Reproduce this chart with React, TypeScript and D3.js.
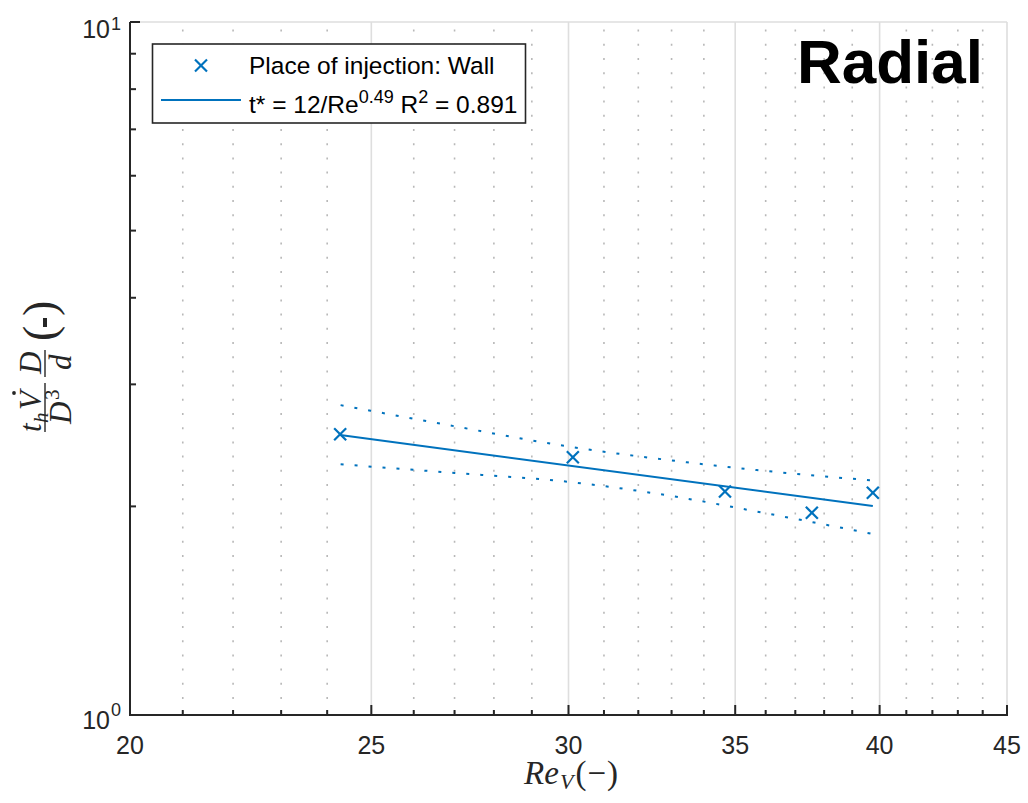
import React from 'react';
import * as d3 from 'd3';

// ---- data ----
const reynolds = [24.29, 30.12, 34.67, 37.57, 39.75];
const tStar = [2.541, 2.354, 2.102, 1.958, 2.093];
const fitRe = [24.29, 39.75];
const fitT = [2.535, 2.002];
const boundRe = [24.3, 27, 30, 33, 36, 39.75];
const upperT = [2.8, 2.61, 2.44, 2.33, 2.25, 2.18];
const lowerT = [2.3, 2.235, 2.17, 2.07, 1.955, 1.825];
const xMajorTicks = [20, 25, 30, 35, 40, 45];
const xMinorTicks = [21, 22, 23, 24, 26, 27, 28, 29, 31, 32, 33, 34, 36, 37, 38, 39, 41, 42, 43, 44];
const yMajorTicks = [1, 10];
const yTickExponents = ['0', '1'];
const yMinorTicks = [2, 3, 4, 5, 6, 7, 8, 9];
const legendScatterLabel = 'Place of injection: Wall';
const fitCoef = '12';
const fitExp = '0.49';
const fitR2 = '0.891';
const panelTitle = 'Radial';

const W = 1028;
const H = 803;
const L = 130;
const R = 1007;
const T = 22;
const B = 715;

const BLUE = '#0072BD';
const AX = '#262626';
const SANS = '"Liberation Sans", Arial, Helvetica, sans-serif';
const SERIF = '"Liberation Serif", "Times New Roman", serif';

export default function App() {
  const x = d3.scaleLog().domain([20, 45]).range([L, R]);
  const y = d3.scaleLog().domain([1, 10]).range([B, T]);

  const fitLine = d3
    .line<number>()
    .x((_, i) => x(fitRe[i]))
    .y((d) => y(d));
  const boundLine = d3
    .line<number>()
    .x((_, i) => x(boundRe[i]))
    .y((d) => y(d))
    .curve(d3.curveMonotoneX);

  const ms = 6;

  return (
    <svg
      width={W}
      height={H}
      style={{ position: 'absolute', left: 0, top: 0, background: '#fff' }}
      xmlns="http://www.w3.org/2000/svg"
    >
      <rect x={0} y={0} width={W} height={H} fill="#fff" />
      {/* minor x grid (dotted) */}
      {xMinorTicks.map((v) => (
        <line
          key={'mg' + v}
          x1={x(v)}
          x2={x(v)}
          y1={B}
          y2={T}
          stroke="#b8b8b8"
          strokeWidth={1.6}
          strokeDasharray="2 12.2"
          strokeDashoffset={12.4}
        />
      ))}
      {/* major x grid */}
      {xMajorTicks.slice(1).map((v) => (
        <line key={'g' + v} x1={x(v)} x2={x(v)} y1={B} y2={T} stroke="#dedede" strokeWidth={1.6} />
      ))}
      {/* major y grid (top) */}
      <line x1={L} x2={R} y1={y(yMajorTicks[1])} y2={y(yMajorTicks[1])} stroke="#dedede" strokeWidth={1.6} />

      {/* confidence bounds */}
      <path d={boundLine(upperT) || ''} fill="none" stroke={BLUE} strokeWidth={2} strokeDasharray="3 11" />
      <path d={boundLine(lowerT) || ''} fill="none" stroke={BLUE} strokeWidth={2} strokeDasharray="3 11" />
      {/* fit */}
      <path d={fitLine(fitT) || ''} fill="none" stroke={BLUE} strokeWidth={2} />
      {/* markers */}
      {reynolds.map((re, i) => {
        const cx = x(re);
        const cy = y(tStar[i]);
        return (
          <g key={'m' + i} stroke={BLUE} strokeWidth={2.2}>
            <line x1={cx - ms} y1={cy - ms} x2={cx + ms} y2={cy + ms} />
            <line x1={cx - ms} y1={cy + ms} x2={cx + ms} y2={cy - ms} />
          </g>
        );
      })}

      {/* axes */}
      <line x1={L} x2={L} y1={T} y2={B} stroke={AX} strokeWidth={2} />
      <line x1={L - 1} x2={R + 1} y1={B} y2={B} stroke={AX} strokeWidth={2} />
      {xMajorTicks.map((v) => (
        <line key={'xt' + v} x1={x(v)} x2={x(v)} y1={B} y2={B - 10} stroke={AX} strokeWidth={2} />
      ))}
      {xMinorTicks.map((v) => (
        <line key={'xmt' + v} x1={x(v)} x2={x(v)} y1={B} y2={B - 5} stroke={AX} strokeWidth={2} />
      ))}
      {yMajorTicks.map((v) => (
        <line key={'yt' + v} x1={L} x2={L + 10} y1={y(v)} y2={y(v)} stroke={AX} strokeWidth={2} />
      ))}
      {yMinorTicks.map((v) => (
        <line key={'ymt' + v} x1={L} x2={L + 6} y1={y(v)} y2={y(v)} stroke={AX} strokeWidth={2} />
      ))}

      {/* x tick labels */}
      {xMajorTicks.map((v) => (
        <text
          key={'xl' + v}
          x={x(v)}
          y={754}
          textAnchor="middle"
          fontFamily={SANS}
          fontSize={25}
          fill={AX}
        >
          {v}
        </text>
      ))}
      {/* y tick labels */}
      {yMajorTicks.map((v, i) => {
        const base = v === 1 ? y(v) + 14 : y(v) + 16;
        const sup = v === 1 ? y(v) + 1 : y(v) + 8;
        return (
          <g key={'yl' + v} fontFamily={SANS} fill={AX}>
            <text x={110} y={base} textAnchor="end" fontSize={25}>
              10
            </text>
            <text x={111} y={sup} textAnchor="start" fontSize={18}>
              {yTickExponents[i]}
            </text>
          </g>
        );
      })}

      {/* x axis label */}
      <text x={618} y={784} textAnchor="end" fontFamily={SERIF} fontSize={33} fill={AX}>
        <tspan fontStyle="italic">R</tspan>
        <tspan fontStyle="italic">e</tspan>
        <tspan fontStyle="italic" fontSize={22} dy={5} dx={1}>
          V
        </tspan>
        <tspan dy={-5} dx={2}>
          (
        </tspan>
        <tspan dx={1}>−</tspan>
        <tspan dx={1}>)</tspan>
      </text>

      {/* y axis label */}
      <g transform="translate(45,368) rotate(-90)" fontFamily={SERIF} fill={AX}>
        {/* fraction 1 */}
        <line x1={-64} x2={-15} y1={0} y2={0} stroke={AX} strokeWidth={1.4} />
        <text x={-64} y={-4} fontSize={31} fontStyle="italic">
          t
        </text>
        <text x={-55} y={3} fontSize={21} fontStyle="italic">
          h
        </text>
        <text x={-42} y={-4} fontSize={31} fontStyle="italic">
          V
        </text>
        <circle cx={-25} cy={-31} r={1.9} fill={AX} />
        <text x={-56} y={26} fontSize={31} fontStyle="italic">
          D
        </text>
        <text x={-32} y={14} fontSize={21}>
          3
        </text>
        {/* fraction 2 */}
        <line x1={-9} x2={18} y1={0} y2={0} stroke={AX} strokeWidth={1.4} />
        <text x={-6} y={-4} fontSize={31} fontStyle="italic">
          D
        </text>
        <text x={-2} y={26} fontSize={31} fontStyle="italic">
          d
        </text>
        {/* (-) */}
        <text x={27} y={10} fontSize={46}>
          (
        </text>
        <rect x={41} y={-2} width={9} height={4} fill={AX} />
        <text x={52} y={10} fontSize={46}>
          )
        </text>
      </g>

      {/* legend */}
      <rect x={152.5} y={44} width={373} height={79} fill="#fff" stroke={AX} strokeWidth={1.6} />
      <g stroke={BLUE} strokeWidth={2.2}>
        <line x1={201 - ms} y1={65.5 - ms} x2={201 + ms} y2={65.5 + ms} />
        <line x1={201 - ms} y1={65.5 + ms} x2={201 + ms} y2={65.5 - ms} />
      </g>
      <line x1={161} x2={241} y1={100} y2={100} stroke={BLUE} strokeWidth={2} />
      <text x={249} y={74} fontFamily={SANS} fontSize={24.5} fill="#000">
        {legendScatterLabel}
      </text>
      <text x={249} y={113} fontFamily={SANS} fontSize={24.5} fill="#000">
        {'t* = ' + fitCoef + '/Re'}
        <tspan fontSize={18} dy={-10}>
          {fitExp}
        </tspan>
        <tspan dy={10}>{' R'}</tspan>
        <tspan fontSize={18} dy={-10}>
          2
        </tspan>
        <tspan dy={10}>{' = ' + fitR2}</tspan>
      </text>

      {/* title */}
      <text x={983} y={83} textAnchor="end" fontFamily={SANS} fontWeight="bold" fontSize={62} fill="#000">
        {panelTitle}
      </text>
    </svg>
  );
}
